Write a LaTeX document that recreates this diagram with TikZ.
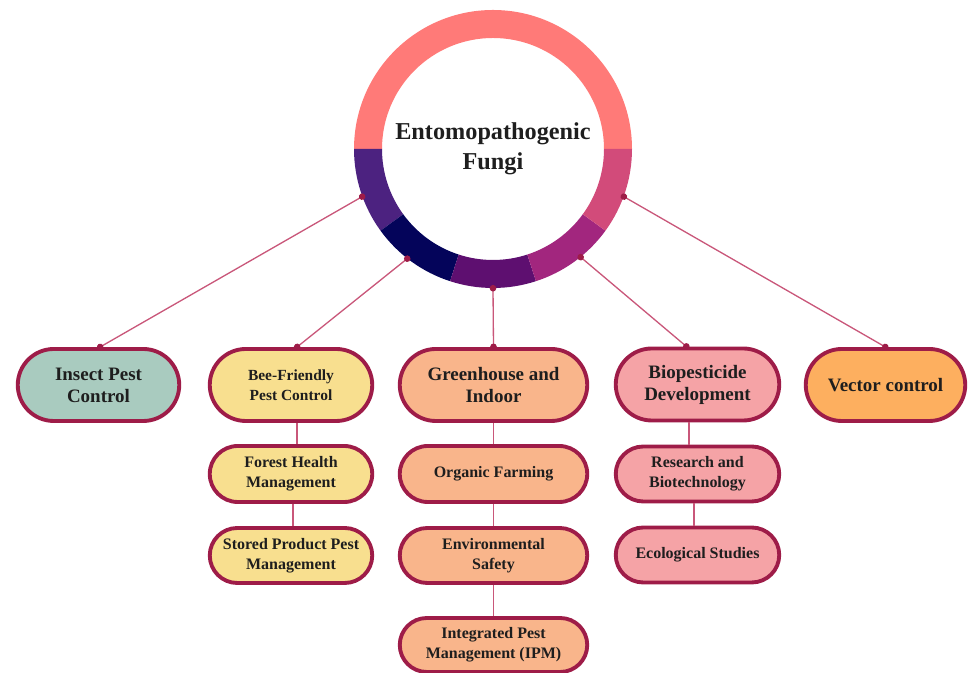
\documentclass[tikz,border=0pt]{standalone}
\usepackage{fontspec}
\setmainfont{Liberation Serif}
\usetikzlibrary{arrows.meta, positioning, calc, shapes.misc}
\definecolor{ringA}{HTML}{FF7A78}
\definecolor{ringB}{HTML}{4C2280}
\definecolor{ringC}{HTML}{04045A}
\definecolor{ringD}{HTML}{5E0F70}
\definecolor{ringE}{HTML}{A2267E}
\definecolor{ringF}{HTML}{D24B7A}
\definecolor{rim}{HTML}{9E1C48}
\definecolor{wire}{HTML}{C9577A}
\definecolor{txt}{HTML}{1E1E1E}
\definecolor{fTeal}{HTML}{A9CBBF}
\definecolor{fYel}{HTML}{F8DF8F}
\definecolor{fOra}{HTML}{F9B58B}
\definecolor{fPink}{HTML}{F5A3A6}
\definecolor{fVec}{HTML}{FDAF5F}
\tikzset{
  pill/.style={rounded rectangle, draw=rim, line width=2.2pt, inner sep=1pt, align=center, text=txt},
  big/.style={pill, minimum height=1.44cm, font=\fontsize{10.8}{12.5}\selectfont\bfseries},
  sml/.style={pill, font=\fontsize{9.1}{11.5}\selectfont\bfseries},
  link/.style={draw=wire, line width=0.75pt, {Circle[length=1.3mm, color=rim]}-{Circle[length=1.3mm, color=rim]},
    shorten <=-0.6mm, shorten >=-0.6mm},
  tie/.style={draw=wire, line width=0.75pt}
}

\begin{document}
\begin{tikzpicture}
		\useasboundingbox (0,0) rectangle (19.42,13.46);
		% ring
		\foreach \a/\b/\c in {0/180/ringA, 180/216/ringB, 216/252/ringC, 252/288/ringD, 288/324/ringE, 324/360/ringF}
			\fill[\c, shift={(9.86,10.48)}] (\a:2.78) arc[start angle=\a, end angle=\b, radius=2.78]
				-- (\b:2.22) arc[start angle=\b, end angle=\a, radius=2.22] -- cycle;
		\node[circle, minimum size=5.56cm, inner sep=0pt, outer sep=0pt, align=center, text=txt,
			font=\fontsize{13.8}{17}\selectfont\bfseries] (epf) at (9.86,10.48) {Entomopathogenic\\Fungi};
		% top row
		\node[big, fill=fTeal, minimum width=3.30cm] (insect) at (1.97,5.76) {Insect Pest\\Control};
		\node[big, fill=fYel, minimum width=3.32cm, font=\fontsize{8.8}{11.5}\selectfont\bfseries] (bee) at (5.82,5.76) {Bee-Friendly\\Pest Control};
		\node[big, fill=fOra, minimum width=3.82cm] (green) at (9.87,5.76) {Greenhouse and\\Indoor};
		\node[big, fill=fPink, minimum width=3.34cm] (bio) at (13.95,5.77) {Biopesticide\\Development};
		\node[big, fill=fVec, minimum width=3.26cm] (vector) at (17.71,5.76) {Vector control};
		% lower rows
		\node[sml, fill=fYel, minimum width=3.32cm, minimum height=1.12cm] (forest) at (5.82,3.98) {Forest Health\\Management};
		\node[sml, fill=fYel, minimum width=3.32cm, minimum height=1.10cm] (stored) at (5.82,2.35) {Stored Product Pest\\Management};
		\node[sml, fill=fOra, minimum width=3.82cm, minimum height=1.12cm] (organic) at (9.87,3.98) {Organic Farming};
		\node[sml, fill=fOra, minimum width=3.82cm, minimum height=1.10cm] (env) at (9.87,2.35) {Environmental\\Safety};
		\node[sml, fill=fOra, minimum width=3.82cm, minimum height=1.08cm] (ipm) at (9.87,0.56) {Integrated Pest\\Management (IPM)};
		\node[sml, fill=fPink, minimum width=3.34cm, minimum height=1.10cm] (research) at (13.95,3.98) {Research and\\Biotechnology};
		\node[sml, fill=fPink, minimum width=3.34cm, minimum height=1.10cm] (eco) at (13.95,2.36) {Ecological Studies};
		% links to the ring
		\draw[link] ([xshift=0.03cm]insect.north) -- (epf.200);
		\draw[link] ([xshift=0.12cm]bee.north) -- (epf.232);
		\draw[link] (green.north) -- (epf.270);
		\draw[link] ([xshift=-0.22cm]bio.north) -- (epf.309);
		\draw[link] (vector.north) -- (epf.340);
		% columns
		\draw[tie] ([xshift=0.12cm]bee.south) -- ([xshift=0.12cm]forest.north);
		\draw[tie] ([xshift=0.04cm]forest.south) -- ([xshift=0.04cm]stored.north);
		\draw[tie] (green.south) -- (organic.north);
		\draw[tie] (organic.south) -- (env.north);
		\draw[tie] (env.south) -- (ipm.north);
		\draw[tie] ([xshift=-0.17cm]bio.south) -- ([xshift=-0.17cm]research.north);
		\draw[tie] ([xshift=-0.07cm]research.south) -- ([xshift=-0.07cm]eco.north);
	\end{tikzpicture}
\end{document}
